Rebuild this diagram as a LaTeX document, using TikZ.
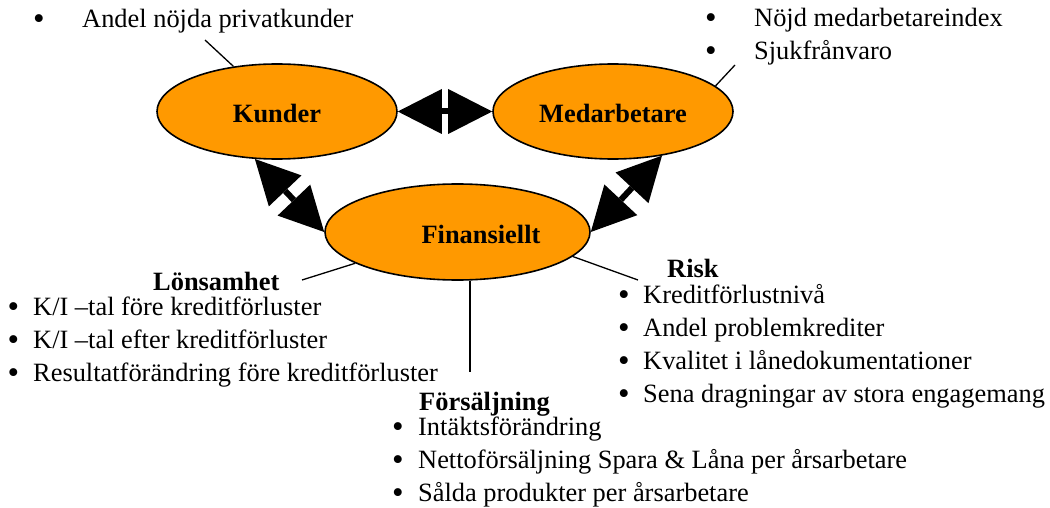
\documentclass[tikz,border=0pt]{standalone}
\usepackage{fontspec}
\setmainfont{Liberation Serif}
\usetikzlibrary{shapes.geometric,calc}
\definecolor{orng}{RGB}{255,153,0}
\newcommand\twohead[2]{%
  \coordinate (ha) at ($(#1)!44pt!(#2)$);
  \coordinate (hb) at ($(#2)!44pt!(#1)$);
  \fill (#1) -- ($(ha)!22.5pt!90:(#1)$) -- ($(ha)!22.5pt!-90:(#1)$) -- cycle;
  \fill (#2) -- ($(hb)!22.5pt!90:(#2)$) -- ($(hb)!22.5pt!-90:(#2)$) -- cycle;
  \draw[line width=6pt] (ha) -- (hb);
}
\begin{document}
\begin{tikzpicture}[x=1pt,y=-1pt,
  every node/.style={font=\fontsize{26.4}{31}\selectfont},
  oval/.style={ellipse,draw,line width=1.6pt,fill=orng,inner sep=0},
  txt/.style={anchor=base west,inner sep=0},
  bul/.style={anchor=base west,inner sep=0,font=\fontsize{33}{33}\selectfont,xshift=-1.2pt,yshift=-2pt},
  hd/.style={anchor=base west,inner sep=0,font=\fontsize{26.4}{31}\selectfont\bfseries},
  ctr/.style={anchor=base,inner sep=0,font=\fontsize{26.4}{31}\selectfont\bfseries},
  lead/.style={line width=1.3pt}]
\useasboundingbox (0,0) rectangle (1050,508);
% ovals
\node[oval,minimum width=240pt,minimum height=95pt] (K) at (277,111.5) {};
\node[oval,minimum width=240pt,minimum height=95pt] (M) at (613,111.5) {};
\node[oval,minimum width=265pt,minimum height=96pt] (F) at (457.5,232) {};
\node[ctr] (Kt) at (277,123) {Kunder};
\node[ctr] (Mt) at (613,123) {Medarbetare};
\node[ctr] (Ft) at (481,243) {Finansiellt};
% double arrows
\twohead{K.east}{M.west}
\twohead{K.-115}{F.west}
\twohead{M.-42}{F.east}
% leads
\coordinate (k1) at (205,40);
\draw[lead] (k1) -- (K.134);
\coordinate (m1) at (735,65);
\draw[lead] (m1) -- (M.14);
\coordinate (l1) at (302,280);
\draw[lead] (l1) -- (F.-163.5);
\coordinate (r1) at (638,280);
\draw[lead] (F.-12) -- (r1);
\coordinate (fs) at (470,372);
\draw[lead] (F.south -| fs) -- (fs);
% top-left
\node[bul] (b1) at (34,28) {•};
\node[txt] (t1) at (82,28) {Andel nöjda privatkunder};
% top-right
\node[bul] (b2) at (706,27) {•};
\node[txt] (t2) at (754,27) {Nöjd medarbetareindex};
\node[bul] (b3) at (706,60) {•};
\node[txt] (t3) at (754,60) {Sjukfrånvaro};
% Lönsamhet
\node[hd] (h1) at (153,290) {Lönsamhet};
\node[bul] (b4) at (8.5,315) {•};
\node[txt] (t4) at (33,315) {K/I –tal före kreditförluster};
\node[bul] (b5) at (8.5,348) {•};
\node[txt] (t5) at (33,348) {K/I –tal efter kreditförluster};
\node[bul] (b6) at (8.5,381) {•};
\node[txt] (t6) at (33,381) {Resultatförändring före kreditförluster};
% Risk
\node[hd] (h2) at (667,277) {Risk};
\node[bul] (b7) at (619,303) {•};
\node[txt] (t7) at (643,303) {Kreditförlustnivå};
\node[bul] (b8) at (619,336) {•};
\node[txt] (t8) at (643,336) {Andel problemkrediter};
\node[bul] (b9) at (619,369) {•};
\node[txt] (t9) at (643,369) {Kvalitet i lånedokumentationer};
\node[bul] (b10) at (619,402) {•};
\node[txt] (t10) at (643,402) {Sena dragningar av stora engagemang};
% Försäljning
\node[hd] (h3) at (419,410.5) {Försäljning};
\node[bul] (b11) at (393,435) {•};
\node[txt] (t11) at (418,435) {Intäktsförändring};
\node[bul] (b12) at (393,468) {•};
\node[txt] (t12) at (418,468) {Nettoförsäljning Spara \& Låna per årsarbetare};
\node[bul] (b13) at (393,501) {•};
\node[txt] (t13) at (418,501) {Sålda produkter per årsarbetare};
\end{tikzpicture}
\end{document}
